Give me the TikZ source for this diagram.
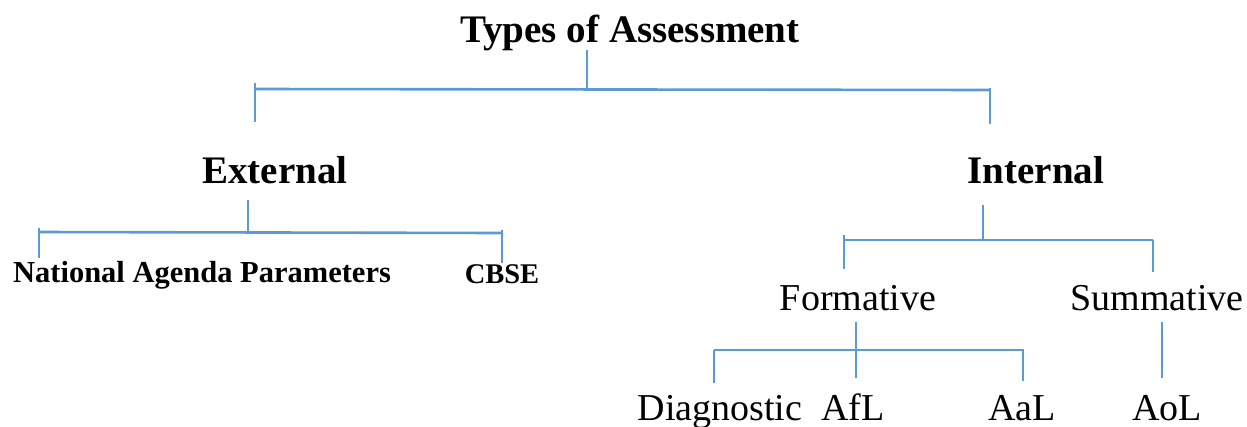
\documentclass[tikz,border=0pt]{standalone}
\usepackage{fontspec}
\setmainfont{Liberation Serif}
\definecolor{linkblue}{RGB}{91,155,213}

\begin{document}
\begin{tikzpicture}[x=1pt,y=1pt,yscale=-1,
  link/.style={draw=linkblue,line width=2.6pt},
  head/.style={font=\fontsize{39}{40}\selectfont\bfseries,anchor=base,inner sep=0pt},
  leaf/.style={font=\fontsize{38}{40}\selectfont,anchor=base,inner sep=0pt},
  small/.style={font=\fontsize{30.5}{32}\selectfont\bfseries,anchor=base,inner sep=0pt}]
\useasboundingbox (0,0) rectangle (1247,426);

% Text Nodes
\node[head] (types) at (630,42) {Types of Assessment};
\node[head] (external) at (275,183) {External};
\node[head] (internal) at (1036,183) {Internal};
\node[small] (nap) at (202,282) {National Agenda Parameters};
\node[small,font=\fontsize{28.5}{30}\selectfont\bfseries] (cbse) at (502,283) {CBSE};
\node[leaf] (formative) at (858,310) {Formative};
\node[leaf] (summative) at (1157,310) {Summative};
\node[leaf] (diagnostic) at (720,420) {Diagnostic};
\node[leaf] (afl) at (853,420) {AfL};
\node[leaf] (aal) at (1022,420) {AaL};
\node[leaf] (aol) at (1167,420) {AoL};

% Junctions
\coordinate (tL) at (255,89);
\coordinate (tR) at (990,90);
\coordinate (tJ) at (587,89);
\coordinate (eL) at (39,232);
\coordinate (eR) at (502,233);
\coordinate (eJ) at (248,232);
\coordinate (iL) at (844,240);
\coordinate (iR) at (1153,240);
\coordinate (iJ) at (983,239);
\coordinate (fL) at (714,350);
\coordinate (fR) at (1023,350);
\coordinate (fJ) at (856,350);
\coordinate (sJ) at (1162,322);

% Types of Assessment -> External / Internal
\draw[link] (tJ) -- ++(0,-39);
\draw[link] (tL) -- (tR);
\draw[link] (tL) ++(0,-6) -- ++(0,39);
\draw[link] (tR) ++(0,-2) -- ++(0,36);

% External -> National Agenda Parameters / CBSE
\draw[link] (eJ) -- ++(0,-32);
\draw[link] (eL) -- (eR);
\draw[link] (eL) ++(0,-4) -- ++(0,30);
\draw[link] (eR) ++(0,-3) -- ++(0,33);

% Internal -> Formative / Summative
\draw[link] (iJ) -- ++(0,-34);
\draw[link] (iL) -- (iR);
\draw[link] (iL) ++(0,-5) -- ++(0,34);
\draw[link] (iR) -- ++(0,32);

% Formative -> Diagnostic / AfL / AaL
\draw[link] (fJ) ++(0,-28) -- ++(0,56);
\draw[link] (fL) -- (fR);
\draw[link] (fL) -- ++(0,33);
\draw[link] (fR) ++(0,-1) -- ++(0,32);

% Summative -> AoL
\draw[link] (sJ) -- ++(0,56);

\end{tikzpicture}
\end{document}
